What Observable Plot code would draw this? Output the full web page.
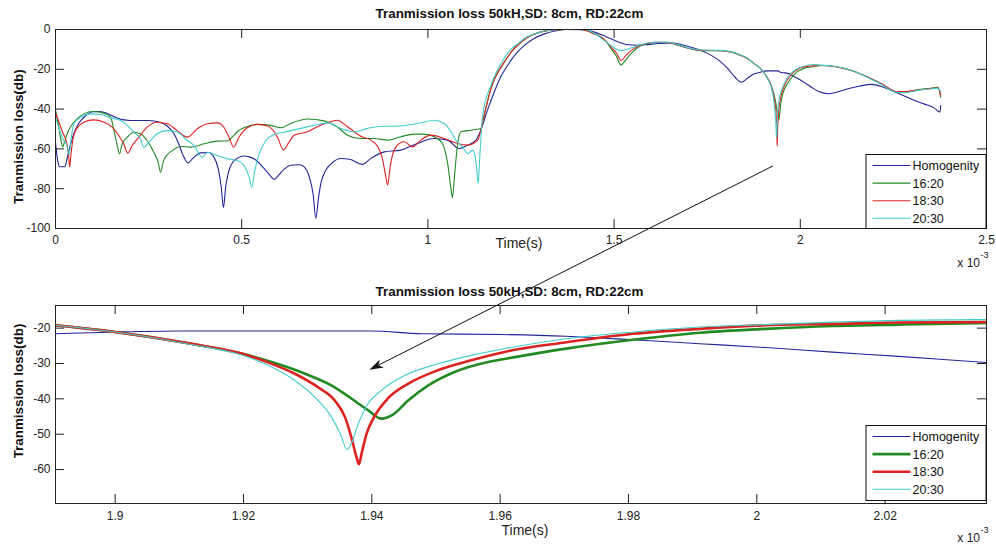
<!DOCTYPE html>
<html>
<head>
<meta charset="utf-8">
<script src="https://cdn.jsdelivr.net/npm/d3@7"></script>
<script src="https://cdn.jsdelivr.net/npm/@observablehq/plot@0.6"></script>
<style>
  html, body { margin: 0; padding: 0; background: #fff; }
  #fig { position: relative; width: 996px; height: 547px; background: #fff; overflow: hidden; }
  #top, #bot { position: absolute; left: 0; }
  #top { top: 0; }
  #bot { top: 270px; }
  #overlay { position: absolute; left: 0; top: 0; pointer-events: none; }
</style>
</head>
<body>
<div id="fig">
  <div id="top"></div>
  <div id="bot"></div>
  <svg id="overlay" width="996" height="547"></svg>
</div>
<script>
// ---------------- data (time in units of 1e-3 s, loss in dB) ----------------
const seriesNames = ["Homogenity", "16:20", "18:30", "20:30"];
const seriesColors = ["#24249a", "#238a23", "#dd2222", "#44cccc"];
const topWidths = [1.1, 1.1, 1.1, 1.1];
const bottomWidths = [1.1, 2.6, 2.6, 1.1];

const homogenity = [[0,-57],[0.006,-66],[0.012,-69],[0.025,-69],[0.032,-64],[0.04,-58],[0.05,-52],[0.063,-47],[0.08,-43.5],[0.1,-41.3],[0.12,-41.2],[0.14,-42.3],[0.16,-44],[0.18,-45.3],[0.2,-45.7],[0.25,-45.7],[0.28,-46.6],[0.3,-48.5],[0.318,-52.4],[0.33,-57],[0.342,-63],[0.356,-67],[0.37,-64.5],[0.39,-62],[0.41,-61.8],[0.425,-64],[0.437,-70],[0.445,-79],[0.451,-89.5],[0.457,-79],[0.464,-72],[0.475,-67],[0.49,-64.5],[0.506,-63.6],[0.52,-64],[0.535,-65.2],[0.56,-69.8],[0.575,-73],[0.587,-75.4],[0.6,-73],[0.615,-70],[0.632,-68.2],[0.655,-68],[0.672,-70],[0.683,-75],[0.692,-83],[0.699,-95],[0.706,-85],[0.713,-77],[0.725,-71],[0.74,-67.5],[0.766,-64.8],[0.79,-65.2],[0.824,-67.8],[0.845,-65],[0.883,-61.5],[0.927,-60.6],[0.972,-57.3],[1.017,-54.8],[1.053,-55.6],[1.084,-59.8],[1.107,-58.1],[1.129,-55.6],[1.142,-50.6],[1.16,-40.5],[1.178,-31.5],[1.195,-24],[1.214,-18.1],[1.235,-12.5],[1.259,-8],[1.285,-4.5],[1.313,-2.2],[1.345,-0.6],[1.375,0],[1.41,-0.1],[1.438,-0.8],[1.465,-2.5],[1.492,-4.7],[1.515,-6.5],[1.537,-7.7],[1.56,-7.9],[1.581,-7.7],[1.62,-7],[1.653,-6.7],[1.685,-7.8],[1.716,-9.4],[1.74,-11],[1.761,-13],[1.785,-16],[1.806,-19.8],[1.825,-24],[1.841,-26.5],[1.858,-24.5],[1.875,-22.3],[1.8907,-21.6],[1.9,-21.1],[1.91,-20.8],[1.94,-20.8],[1.9477,-21.6],[1.96,-21.8],[1.9703,-22.3],[1.9807,-23.3],[1.9911,-24.4],[2.0014,-25.5],[2.0118,-26.8],[2.0222,-28],[2.0346,-29.6],[2.05,-31.2],[2.074,-32.3],[2.1,-31.4],[2.128,-29.8],[2.16,-28.4],[2.191,-27.6],[2.22,-28.8],[2.245,-30.7],[2.275,-33],[2.307,-35.7],[2.334,-37.5],[2.36,-39.5],[2.375,-41.5],[2.377,-38.2]];

const s1620 = [[0,-40.5],[0.008,-48],[0.014,-55],[0.019,-59],[0.025,-56],[0.032,-52],[0.04,-49],[0.058,-44.9],[0.076,-42.4],[0.1,-41.2],[0.12,-41.5],[0.135,-42.5],[0.148,-44],[0.157,-50.8],[0.166,-58.3],[0.172,-62.5],[0.179,-57.5],[0.193,-54.1],[0.21,-51.6],[0.228,-52.4],[0.246,-55.8],[0.264,-61.7],[0.276,-67],[0.282,-71.7],[0.29,-66],[0.3,-63],[0.314,-60.8],[0.336,-58.8],[0.363,-59.1],[0.399,-57.4],[0.435,-56.1],[0.46,-56],[0.475,-54],[0.49,-51],[0.506,-49.4],[0.542,-47.7],[0.578,-48.2],[0.605,-49.4],[0.632,-47.2],[0.677,-45],[0.721,-45.9],[0.757,-49],[0.784,-53.1],[0.82,-54.8],[0.856,-54.8],[0.892,-55.6],[0.927,-53.9],[0.963,-52.6],[0.99,-52.6],[1.017,-53.9],[1.039,-57.3],[1.053,-67.3],[1.062,-80],[1.066,-84.5],[1.072,-72.4],[1.08,-57.3],[1.089,-51.4],[1.116,-50.6],[1.142,-49.7],[1.155,-40],[1.169,-29.8],[1.185,-22.5],[1.205,-16.4],[1.225,-11],[1.25,-6.4],[1.275,-3.2],[1.304,-1.2],[1.335,-0.2],[1.366,0],[1.411,0],[1.447,-2.2],[1.47,-4.5],[1.483,-7.2],[1.495,-10.5],[1.505,-13.1],[1.519,-17.8],[1.53,-15.5],[1.546,-12],[1.573,-8],[1.608,-6.4],[1.644,-6.4],[1.67,-7.8],[1.698,-9.4],[1.734,-10.6],[1.788,-10.6],[1.815,-11.4],[1.84,-13],[1.859,-14.7],[1.875,-17],[1.8907,-19.2],[1.9,-21.1],[1.9114,-24.3],[1.9197,-27.2],[1.9244,-29.6],[1.9296,-32.9],[1.9337,-36.2],[1.9368,-39.9],[1.9394,-43.2],[1.9415,-45.6],[1.9431,-44.7],[1.9457,-40.4],[1.9488,-36.2],[1.9529,-32.4],[1.9581,-29.6],[1.9623,-28.2],[1.9703,-25.8],[1.9807,-23.3],[1.9911,-21.3],[2.0014,-20.2],[2.0118,-19.4],[2.0222,-19],[2.0346,-18.6],[2.056,-18.1],[2.092,-18.6],[2.115,-19.5],[2.137,-20.6],[2.16,-22.2],[2.182,-24],[2.2,-25.6],[2.218,-27.3],[2.236,-29.5],[2.254,-31.2],[2.28,-31.5],[2.316,-30.2],[2.352,-29.5],[2.37,-29],[2.377,-34]];

const s1830 = [[0,-42],[0.01,-47],[0.02,-52],[0.03,-57],[0.035,-63],[0.038,-69],[0.042,-62],[0.047,-55],[0.054,-50.8],[0.076,-46.6],[0.103,-45.4],[0.13,-46.6],[0.152,-49.1],[0.17,-53.3],[0.185,-58.3],[0.194,-62.1],[0.206,-58.3],[0.224,-54.1],[0.246,-49.1],[0.273,-46.6],[0.3,-47.4],[0.327,-50.8],[0.354,-54.1],[0.381,-49.9],[0.408,-47.4],[0.435,-46.9],[0.452,-49.1],[0.466,-54.1],[0.478,-59.1],[0.493,-54],[0.515,-49.4],[0.542,-47.7],[0.57,-48.5],[0.596,-54.1],[0.612,-60.5],[0.626,-57],[0.641,-53.1],[0.677,-51.4],[0.703,-48.9],[0.73,-46.9],[0.757,-45.6],[0.784,-48.9],[0.82,-53.6],[0.847,-55.6],[0.866,-59],[0.878,-65],[0.887,-74],[0.892,-78.2],[0.898,-70],[0.905,-63],[0.914,-59],[0.936,-56.4],[0.959,-59],[0.981,-55.6],[1.008,-53.1],[1.044,-54.8],[1.08,-57.3],[1.107,-58.1],[1.134,-55.6],[1.142,-50.6],[1.155,-40],[1.169,-29.8],[1.185,-22.5],[1.205,-16.4],[1.225,-11],[1.25,-6.4],[1.275,-3.2],[1.304,-1.2],[1.335,-0.2],[1.366,0],[1.411,0],[1.447,-2.2],[1.47,-4.5],[1.483,-6.8],[1.495,-9.5],[1.505,-11.5],[1.519,-15.6],[1.532,-13],[1.546,-10.5],[1.573,-7.8],[1.608,-6.5],[1.644,-6.5],[1.67,-7.8],[1.698,-9.3],[1.734,-10.5],[1.788,-10.6],[1.815,-11.3],[1.84,-12.9],[1.859,-14.6],[1.875,-17],[1.8907,-19.2],[1.9,-21.1],[1.9114,-24.3],[1.9197,-27.2],[1.9244,-30.1],[1.928,-32.9],[1.9316,-36.7],[1.9342,-40.4],[1.9358,-45.1],[1.9368,-50.8],[1.9376,-56.4],[1.938,-58.5],[1.9384,-55.5],[1.9392,-49.8],[1.9405,-44.7],[1.9425,-39.9],[1.9457,-35.7],[1.9503,-31.9],[1.9555,-29.1],[1.961,-26.6],[1.9703,-24],[1.9807,-21.6],[1.9911,-20.2],[2.0014,-19.2],[2.0118,-18.8],[2.0222,-18.4],[2.0346,-18.3],[2.056,-18.1],[2.092,-18.6],[2.115,-19.5],[2.137,-20.6],[2.16,-22.2],[2.182,-24],[2.2,-25.6],[2.218,-27.3],[2.236,-29.3],[2.254,-31],[2.28,-31.2],[2.316,-30.4],[2.352,-29.6],[2.37,-29.3],[2.377,-33]];

const s2030 = [[0,-44],[0.01,-50],[0.02,-55],[0.03,-58],[0.037,-63],[0.042,-55],[0.049,-47.4],[0.067,-44.1],[0.094,-42.4],[0.121,-42.7],[0.148,-44.4],[0.175,-45.7],[0.193,-48.2],[0.21,-51.6],[0.228,-54.9],[0.237,-59.1],[0.255,-55.8],[0.273,-52.4],[0.3,-50.8],[0.327,-51.5],[0.354,-55.8],[0.372,-58.3],[0.394,-64.2],[0.408,-61.7],[0.435,-63.3],[0.462,-65],[0.488,-65.8],[0.506,-68.3],[0.52,-74.2],[0.527,-79.2],[0.535,-70.9],[0.547,-62.5],[0.565,-55.8],[0.587,-52.8],[0.614,-51.6],[0.659,-49.7],[0.694,-48.1],[0.73,-46.9],[0.766,-49.7],[0.802,-51.4],[0.838,-49.7],[0.874,-48.6],[0.909,-48.6],[0.945,-48.1],[0.981,-46.9],[1.017,-45.6],[1.044,-47.2],[1.062,-51.4],[1.075,-55.6],[1.093,-59],[1.107,-62.3],[1.12,-60.6],[1.127,-64],[1.131,-70],[1.135,-77.4],[1.139,-65],[1.143,-53],[1.147,-43.2],[1.169,-28.1],[1.185,-21],[1.201,-15.6],[1.22,-10.5],[1.241,-7.2],[1.265,-3.8],[1.295,-1.7],[1.325,-0.4],[1.357,0],[1.42,0],[1.456,-3],[1.475,-5.8],[1.492,-8],[1.505,-9.8],[1.519,-10.6],[1.546,-9.2],[1.581,-7.2],[1.61,-6.4],[1.644,-6.4],[1.67,-7.6],[1.698,-9.2],[1.734,-10.3],[1.788,-10.5],[1.815,-11.2],[1.84,-12.8],[1.859,-14.5],[1.875,-17],[1.8907,-19.2],[1.9,-21.1],[1.9114,-24.5],[1.9197,-27.6],[1.9244,-31],[1.928,-34.8],[1.9311,-39.5],[1.9337,-45.1],[1.9353,-50.8],[1.9361,-54.4],[1.9368,-52.7],[1.9379,-47],[1.9394,-41.4],[1.9415,-37.6],[1.9451,-33.4],[1.9503,-30.1],[1.9555,-27.7],[1.961,-25.7],[1.9703,-23],[1.9807,-21.1],[1.9911,-19.7],[2.0014,-19],[2.0118,-18.3],[2.0222,-17.8],[2.0346,-17.6],[2.056,-17.9],[2.092,-18.5],[2.137,-20.5],[2.182,-24.2],[2.218,-27.6],[2.254,-31.4],[2.28,-31.8],[2.316,-30.6],[2.352,-29.8],[2.37,-29.5],[2.377,-31]];

const seriesData = [homogenity, s1620, s1830, s2030];

const topXTicks = [0, 0.5, 1, 1.5, 2, 2.5];
const topYTicks = [0, -20, -40, -60, -80, -100];
const topXDomain = [0, 2.5];
const topYDomain = [-100, 0];

const botXTicks = [1.9, 1.92, 1.94, 1.96, 1.98, 2, 2.02];
const botYTicks = [-20, -30, -40, -50, -60];
const botXDomain = [1.8907, 2.0358];
const botYDomain = [-69.6, -13.6];

const titleText = "Tranmission loss 50kH,SD: 8cm, RD:22cm";
const yLabelText = "Tranmission loss(db)";
const xLabelText = "Time(s)";
// arrow annotation: from a point in the top axes to a point in the bottom axes
const arrowFrom = [1.928, -68.8];
const arrowTo = [1.9397, -31.9];

// ---------------- plots ----------------
const FONT = "'Liberation Sans', Arial, Helvetica, sans-serif";
const AX = "#222";
const W = 996, ML = 55, MR = 10, TL = 9;

function makePlot({height, mt, mb, xDomain, yDomain, xTicks, yTicks, widths, tickPad}) {
  const iw = W - ML - MR, ih = height - mt - mb;
  return Plot.plot({
    width: W, height,
    marginLeft: ML, marginRight: MR, marginTop: mt, marginBottom: mb,
    x: {domain: xDomain},
    y: {domain: yDomain},
    style: {fontFamily: FONT, fontSize: "12px", color: AX, background: "transparent", overflow: "visible"},
    marks: [
      ...seriesData.map((arr, i) => Plot.line(arr, {
        x: d => d[0], y: d => d[1],
        stroke: seriesColors[i], strokeWidth: widths[i],
        curve: "monotone-x", clip: true
      })),
      Plot.frame({stroke: AX}),
      Plot.tickX(xTicks, {x: d => d, insetTop: ih - TL, stroke: AX}),
      Plot.tickX(xTicks, {x: d => d, insetBottom: ih - TL, stroke: AX}),
      Plot.tickY(yTicks, {y: d => d, insetRight: iw - TL, stroke: AX}),
      Plot.tickY(yTicks, {y: d => d, insetLeft: iw - TL, stroke: AX}),
      Plot.axisX(xTicks, {anchor: "bottom", tickSize: 0, tickPadding: tickPad, tickFormat: d => String(d), label: null}),
      Plot.axisY(yTicks, {anchor: "left", tickSize: 0, tickPadding: 5, tickFormat: d => String(d), label: null})
    ]
  });
}

const topPlot = makePlot({height: 270, mt: 29, mb: 42, xDomain: topXDomain, yDomain: topYDomain,
  xTicks: topXTicks, yTicks: topYTicks, widths: topWidths, tickPad: 7});
const botPlot = makePlot({height: 277, mt: 35, mb: 44, xDomain: botXDomain, yDomain: botYDomain,
  xTicks: botXTicks, yTicks: botYTicks, widths: bottomWidths, tickPad: 8});
document.getElementById("top").appendChild(topPlot);
document.getElementById("bot").appendChild(botPlot);

// ---------------- annotations (titles, labels, legends, arrow) ----------------
const ov = d3.select("#overlay");
const BOT_OFF = 270;

function decorate(plot, off, o) {
  const xs = plot.scale("x"), ys = plot.scale("y");
  const [x0, x1] = xs.range;
  const yb = ys.range[0] + off, yt = ys.range[1] + off;
  const cx = (x0 + x1) / 2;
  ov.append("text").attr("x", cx - 11).attr("y", yt - o.titleGap)
    .attr("text-anchor", "middle").attr("font-family", FONT).attr("font-weight", "bold")
    .attr("font-size", 13.4).attr("fill", "#111").text(titleText);
  ov.append("text").attr("transform", `translate(22.5,${o.ylabY}) rotate(-90)`)
    .attr("text-anchor", "middle").attr("font-family", FONT).attr("font-weight", "bold")
    .attr("font-size", 13.4).attr("fill", "#111").text(yLabelText);
  ov.append("text").attr("x", o.xlabX).attr("y", yb + o.xlabGap)
    .attr("text-anchor", "middle").attr("font-family", FONT)
    .attr("font-size", 14).attr("fill", "#222").text(xLabelText);
  ov.append("text").attr("x", x1 - 6).attr("y", yb + 38.7)
    .attr("text-anchor", "end").attr("font-family", FONT)
    .attr("font-size", 12).attr("fill", "#222").text("x 10");
  ov.append("text").attr("x", x1 - 5.5).attr("y", yb + 30.3)
    .attr("text-anchor", "start").attr("font-family", FONT)
    .attr("font-size", 9).attr("fill", "#222").text("-3");
  const lw = 120, lh = o.legH;
  const lx = x1 - lw - 0.5, ly = yb - lh - o.legLift;
  const g = ov.append("g").attr("transform", `translate(${lx},${ly})`);
  g.append("rect").attr("x", 0.5).attr("y", 0.5).attr("width", lw).attr("height", lh)
    .attr("fill", "#fff").attr("stroke", "#111").attr("stroke-width", 1);
  seriesNames.forEach((name, i) => {
    const ry = 11.5 + i * 17.6;
    g.append("line").attr("x1", 7).attr("x2", 45).attr("y1", ry).attr("y2", ry)
      .attr("stroke", seriesColors[i]).attr("stroke-width", o.legWidths[i]);
    g.append("text").attr("x", 47).attr("y", ry).attr("dy", "0.36em")
      .attr("font-family", FONT).attr("font-size", 12.5).attr("fill", "#111").text(name);
  });
}

decorate(topPlot, 0, {titleGap: 10.7, ylabY: 136.7, xlabX: 519, xlabGap: 19.5, legH: 74, legLift: 0, legWidths: topWidths});
decorate(botPlot, BOT_OFF, {titleGap: 9, ylabY: 391, xlabX: 525, xlabGap: 32, legH: 75, legLift: 3, legWidths: bottomWidths});

(function () {
  const sx = topPlot.scale("x").apply(arrowFrom[0]);
  const sy = topPlot.scale("y").apply(arrowFrom[1]);
  const ex = botPlot.scale("x").apply(arrowTo[0]);
  const ey = botPlot.scale("y").apply(arrowTo[1]) + BOT_OFF;
  const dx = ex - sx, dy = ey - sy, len = Math.hypot(dx, dy);
  const ux = dx / len, uy = dy / len, nx = -uy, ny = ux;
  const hl = 14, hw = 4.5, notch = 10;
  ov.append("line").attr("x1", sx).attr("y1", sy)
    .attr("x2", ex - ux * notch).attr("y2", ey - uy * notch)
    .attr("stroke", "#111").attr("stroke-width", 1);
  const pts = [
    [ex, ey],
    [ex - ux * hl + nx * hw, ey - uy * hl + ny * hw],
    [ex - ux * notch, ey - uy * notch],
    [ex - ux * hl - nx * hw, ey - uy * hl - ny * hw]
  ];
  ov.append("polygon").attr("points", pts.map(p => p.join(",")).join(" ")).attr("fill", "#111");
})();
</script>
</body>
</html>
